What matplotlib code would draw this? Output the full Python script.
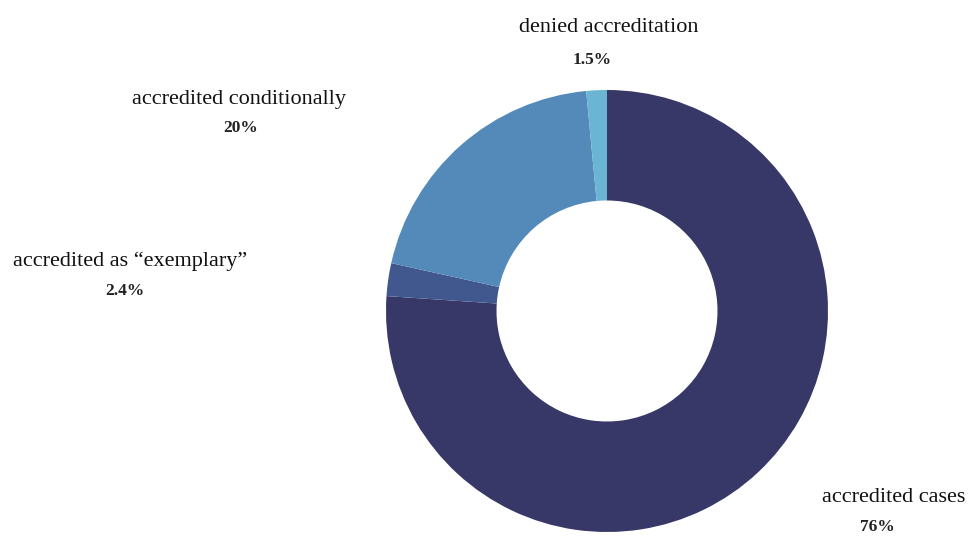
import matplotlib.pyplot as plt

categories = ["accredited cases", "accredited as \u201cexemplary\u201d",
              "accredited conditionally", "denied accreditation"]
shares = [76, 2.4, 20, 1.5]
pct_labels = ["76%", "2.4%", "20%", "1.5%"]
colors = ["#373768", "#41588f", "#548ab9", "#6ab4d4"]

W, H = 973, 538
fig = plt.figure(figsize=(W / 100, H / 100), dpi=100)

# pie centre ~ (607, 311) px, radius ~221 px
cx, cy, r = 607, 311, 221
ax = fig.add_axes([(cx - r) / W, (H - cy - r) / H, 2 * r / W, 2 * r / H])
ax.pie(shares, colors=colors, startangle=90, counterclock=False,
       radius=1, wedgeprops=dict(width=0.5, linewidth=0))
ax.set_xlim(-1, 1)
ax.set_ylim(-1, 1)
ax.set_aspect("equal")
ax.axis("off")

# label positions in pixels (name centre, percent centre)
label_pos = [((894, 498), (877, 527)),
             ((130, 261), (125, 291)),
             ((239, 100), (241, 128)),
             ((609, 27), (592, 60))]

for name, pct, ((nx, ny), (px, py)) in zip(categories, pct_labels, label_pos):
    fig.text(nx / W, 1 - ny / H, name, ha="center", va="center",
             fontsize=16, family="Liberation Serif", color="#111111")
    fig.text(px / W, 1 - py / H, pct, ha="center", va="center",
             fontsize=12.5, family="Liberation Serif", fontweight="bold",
             color="#222222")

fig.savefig("out.png", dpi=100)
